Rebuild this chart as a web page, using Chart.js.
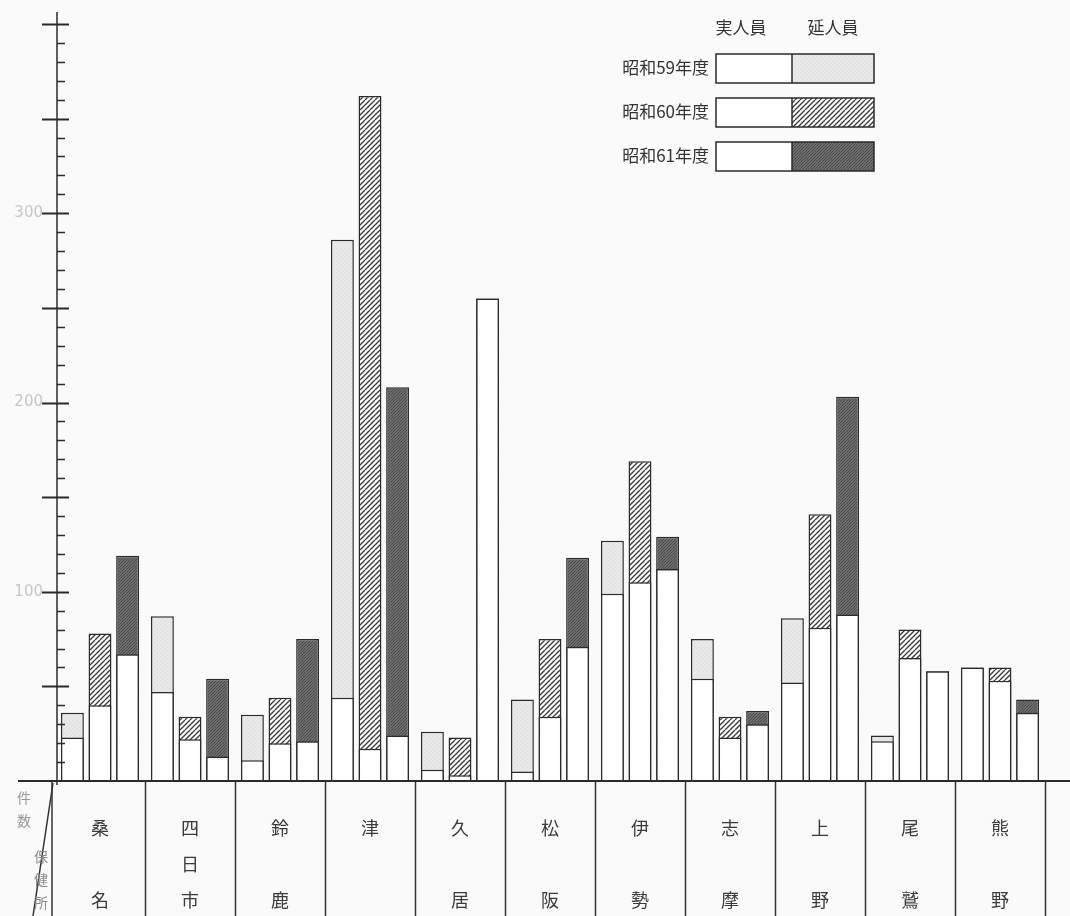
<!DOCTYPE html>
<html>
<head>
<meta charset="utf-8">
<style>
  html, body { margin: 0; padding: 0; background: #fafafa; }
</style>
</head>
<body>
<canvas id="myChart" width="1070" height="916"></canvas>
<script src="https://cdn.jsdelivr.net/npm/chart.js"></script>
<script>
  // 保健所
  const centers = ["桑名", "四日市", "鈴鹿", "津", "久居", "松阪", "伊勢", "志摩", "上野", "尾鷲", "熊野"];
  const years = ["昭和59年度", "昭和60年度", "昭和61年度"];
  // 実人員 (white lower part)
  const real59 = [23, 47, 11, 44, 6, 5, 99, 54, 52, 21, 60];
  const real60 = [40, 22, 20, 17, 3, 34, 105, 23, 81, 65, 53];
  const real61 = [67, 13, 21, 24, 255, 71, 112, 30, 88, 58, 36];
  // 延人員 (top of each bar)
  const total59 = [36, 87, 35, 286, 26, 43, 127, 75, 86, 24, 60];
  const total60 = [78, 34, 44, 362, 23, 75, 169, 34, 141, 80, 60];
  const total61 = [119, 54, 75, 208, 255, 118, 129, 37, 203, 58, 43];
  const yLabels = [100, 200, 300];

  const ink = "#2a2a2a";

  function hatch(size, bg, line, lw, step) {
    const c = document.createElement("canvas");
    c.width = c.height = size;
    const g = c.getContext("2d");
    g.fillStyle = bg;
    g.fillRect(0, 0, size, size);
    if (line) {
      g.strokeStyle = line;
      g.lineWidth = lw;
      for (let k = -size; k <= size * 2; k += step) {
        g.beginPath();
        g.moveTo(k, size);
        g.lineTo(k + size, 0);
        g.stroke();
      }
    }
    return g.createPattern(c, "repeat");
  }
  const ctx0 = document.getElementById("myChart");
  const pat59 = hatch(8, "#e4e4e4", "#eeeeee", 1, 4);
  const pat60 = hatch(10, "#ffffff", "#3a3a3a", 1.3, 5);
  const pat61 = hatch(6, "#7c7c7c", "#4a4a4a", 1.2, 3);
  const pats = [pat59, pat60, pat61];

  const paper = {
    id: "paper",
    beforeDraw(chart) {
      const { ctx, width, height } = chart;
      ctx.save();
      ctx.fillStyle = "#fafafa";
      ctx.fillRect(0, 0, width, height);
      ctx.restore();
    },
  };

  const frame = {
    id: "frame",
    afterDatasetsDraw(chart) {
      const { ctx, scales: { x, y } } = chart;
      const ax = 57;
      const base = y.getPixelForValue(0);
      ctx.save();
      ctx.strokeStyle = ink;
      ctx.lineWidth = 1.5;
      ctx.beginPath();
      ctx.moveTo(ax, 12);
      ctx.lineTo(ax, base + 4);
      ctx.stroke();
      for (let v = 10; v <= y.max; v += 10) {
        const py = Math.round(y.getPixelForValue(v)) + 0.5;
        const major = v % 50 === 0;
        ctx.lineWidth = major ? 2 : 1.5;
        ctx.beginPath();
        ctx.moveTo(major ? 42 : ax, py);
        ctx.lineTo(major ? 69 : 65, py);
        ctx.stroke();
      }
      ctx.fillStyle = "#c6c6c6";
      ctx.font = "15px 'DejaVu Sans'";
      ctx.textAlign = "right";
      ctx.textBaseline = "middle";
      yLabels.forEach((v) => ctx.fillText(String(v), 43, y.getPixelForValue(v)));

      // baseline
      ctx.lineWidth = 2;
      ctx.beginPath();
      ctx.moveTo(18, base);
      ctx.lineTo(1070, base);
      ctx.stroke();

      // table below
      const step = x.getPixelForValue(1) - x.getPixelForValue(0);
      ctx.lineWidth = 1.5;
      ctx.strokeStyle = "#333";
      for (let i = 0; i <= centers.length; i++) {
        const bx = i === 0 ? 52 : Math.round(x.getPixelForValue(i) - step / 2) + 0.5;
        ctx.beginPath();
        ctx.moveTo(bx, base);
        ctx.lineTo(bx, 916);
        ctx.stroke();
      }
      ctx.beginPath();
      ctx.moveTo(53, base + 2);
      ctx.lineTo(33, 916);
      ctx.stroke();

      ctx.textAlign = "center";
      ctx.fillStyle = "#999";
      ctx.font = "14px 'Noto Sans CJK JP'";
      ["件", "数"].forEach((c, k) => ctx.fillText(c, 24, 798 + k * 23));
      ctx.fillStyle = "#8a8a8a";
      ["保", "健", "所"].forEach((c, k) => ctx.fillText(c, 41, 857 + k * 23));

      ctx.fillStyle = "#3a3a3a";
      ctx.font = "18px 'Noto Sans CJK JP'";
      const rows = [828, 864, 900];
      centers.forEach((name, i) => {
        const cx = x.getPixelForValue(i);
        const chars = [...name];
        const slots = chars.length === 3 ? [0, 1, 2] : chars.length === 2 ? [0, 2] : [0];
        chars.forEach((c, k) => ctx.fillText(c, cx, rows[slots[k]]));
      });

      // legend
      ctx.fillStyle = "#333";
      ctx.font = "17px 'Noto Sans CJK JP'";
      ctx.fillText("実人員", 741, 28);
      ctx.fillText("延人員", 833, 28);
      const rowTop = [54, 98, 142];
      years.forEach((yr, k) => {
        const ty = rowTop[k];
        ctx.textAlign = "right";
        ctx.fillStyle = "#333";
        ctx.fillText(yr, 709, ty + 14);
        ctx.fillStyle = "#ffffff";
        ctx.fillRect(716, ty, 76, 29);
        ctx.fillStyle = pats[k];
        ctx.fillRect(792, ty, 82, 29);
        ctx.strokeStyle = ink;
        ctx.lineWidth = 1.5;
        ctx.strokeRect(716, ty, 158, 29);
        ctx.beginPath();
        ctx.moveTo(792, ty);
        ctx.lineTo(792, ty + 29);
        ctx.stroke();
        ctx.textAlign = "center";
      });
      ctx.restore();
    },
  };

  new Chart(ctx0, {
    type: "bar",
    data: {
      labels: centers,
      datasets: [
        { label: "昭和59年度 実人員", data: real59, stack: "s59", order: 0, backgroundColor: "#ffffff" },
        { label: "昭和60年度 実人員", data: real60, stack: "s60", order: 0, backgroundColor: "#ffffff" },
        { label: "昭和61年度 実人員", data: real61, stack: "s61", order: 0, backgroundColor: "#ffffff" },
        { label: "昭和59年度 延人員", data: total59, stack: "s59", order: 1, backgroundColor: pat59 },
        { label: "昭和60年度 延人員", data: total60, stack: "s60", order: 1, backgroundColor: pat60 },
        { label: "昭和61年度 延人員", data: total61, stack: "s61", order: 1, backgroundColor: pat61 },
      ],
    },
    options: {
      responsive: false,
      animation: false,
      layout: { padding: { left: 55, right: 25, top: 24, bottom: 135 } },
      datasets: {
        bar: {
          categoryPercentage: 0.92,
          barPercentage: 0.83,
          borderColor: ink,
          borderWidth: 1.5,
        },
      },
      scales: {
        x: { display: false, stacked: true },
        y: { display: false, stacked: false, min: 0, max: 400 },
      },
      plugins: {
        legend: { display: false },
        tooltip: { enabled: false },
      },
    },
    plugins: [paper, frame],
  });
</script>
</body>
</html>
